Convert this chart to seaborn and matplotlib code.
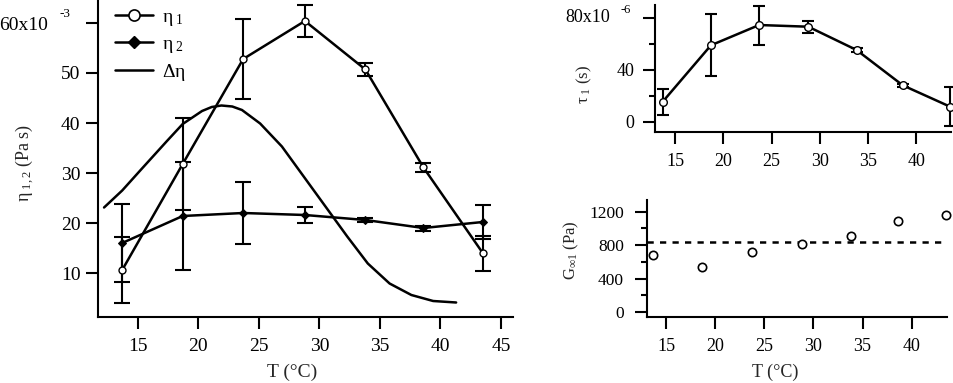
import matplotlib
matplotlib.use("Agg")
import matplotlib.pyplot as plt
from matplotlib.lines import Line2D
from matplotlib.ticker import FixedLocator
import seaborn as sns

# ---------------- data ----------------
T = [13.7, 18.7, 23.7, 28.8, 33.8, 38.6, 43.5]
eta1 = [10.6, 31.8, 52.8, 60.4, 50.7, 31.1, 14.0]          # x10^-3 Pa s
eta1_err = [6.6, 9.2, 8.0, 3.2, 1.3, 0.9, 3.5]
eta2 = [16.0, 21.4, 22.0, 21.6, 20.6, 19.0, 20.2]
eta2_err = [7.8, 10.8, 6.1, 1.6, 0.4, 0.5, 3.4]
dT = [12.2, 13.7, 15.3, 17.4, 18.7, 20.3, 21.1, 21.9, 22.8, 23.6, 25.1,
      26.9, 28.7, 30.5, 32.3, 34.0, 35.8, 37.6, 39.4, 41.3]
deta = [23.1, 26.5, 30.8, 36.4, 39.8, 42.4, 43.2, 43.5, 43.3, 42.6, 39.9,
        35.3, 29.3, 23.3, 17.3, 11.9, 7.9, 5.6, 4.4, 4.1]
tau1 = [15.6, 59.0, 74.6, 73.3, 55.4, 28.2, 11.8]           # x10^-6 s
tau1_err = [10.0, 24.0, 15.0, 4.5, 1.5, 1.0, 15.0]
G = [680, 540, 715, 820, 910, 1085, 1155]                   # Pa
G_mean = 840

left_xticks = [15, 20, 25, 30, 35, 40, 45]
left_yticks = [10, 20, 30, 40, 50, 60]
right_xticks = [15, 20, 25, 30, 35, 40]

# ---------------- style ----------------
sns.set_style("ticks")
plt.rcParams["font.family"] = ["Liberation Serif", "DejaVu Serif"]
plt.rcParams["mathtext.fontset"] = "custom"
plt.rcParams["mathtext.rm"] = "Liberation Serif"
plt.rcParams["mathtext.it"] = "Liberation Serif"
plt.rcParams["mathtext.bf"] = "Liberation Serif"
plt.rcParams["axes.linewidth"] = 1.5
plt.rcParams["axes.edgecolor"] = "black"
plt.rcParams["text.color"] = "black"
plt.rcParams["xtick.color"] = "black"
plt.rcParams["ytick.color"] = "black"
plt.rcParams["lines.solid_joinstyle"] = "round"

W, H = 954, 383
fig = plt.figure(figsize=(W / 100, H / 100), dpi=100)


def px_axes(x0, y0, x1, y1):
    return fig.add_axes([x0 / W, 1 - y1 / H, (x1 - x0) / W, (y1 - y0) / H])


def style_ticks(ax, size, xpad, ypad):
    ax.tick_params(which="major", direction="out", length=8.6, width=1.5,
                   labelsize=size)
    ax.tick_params(which="minor", direction="out", length=4.3, width=1.5)
    ax.tick_params(axis="x", pad=xpad)
    ax.tick_params(axis="y", pad=ypad)
    for s in ["top", "right"]:
        ax.spines[s].set_visible(False)


def place_ylabel(ax, text, size, xpx, ypx):
    ax.set_ylabel(text, fontsize=size)
    ax.yaxis.set_label_coords(xpx / W, 1 - ypx / H, transform=fig.transFigure)
    ax.yaxis.label.set_verticalalignment("center")
    ax.yaxis.label.set_horizontalalignment("center")


def place_xlabel(ax, text, size, xpx, ypx):
    ax.set_xlabel(text, fontsize=size)
    ax.xaxis.set_label_coords(xpx / W, 1 - ypx / H, transform=fig.transFigure)
    ax.xaxis.label.set_verticalalignment("center")
    ax.xaxis.label.set_horizontalalignment("center")


lw = 1.8
# ---------------- left panel ----------------
axL = px_axes(98, 0, 513, 317)
axL.errorbar(T, eta1, yerr=eta1_err, fmt="none", ecolor="black",
             elinewidth=1.5, capsize=5.5, capthick=1.5, zorder=2)
axL.errorbar(T, eta2, yerr=eta2_err, fmt="none", ecolor="black",
             elinewidth=1.5, capsize=5.5, capthick=1.5, zorder=2)
sns.lineplot(x=T, y=eta1, ax=axL, color="black", lw=lw, marker="o",
             markersize=5, markerfacecolor="white", markeredgecolor="black",
             markeredgewidth=1.0, zorder=3)
sns.lineplot(x=T, y=eta2, ax=axL, color="black", lw=lw, marker="D",
             markersize=4, markerfacecolor="black", markeredgecolor="black",
             zorder=3)
sns.lineplot(x=dT, y=deta, ax=axL, color="black", lw=lw, sort=False, zorder=3)
axL.set_xlim(11.7, 46.0)
axL.set_ylim(1.2, 64.6)
axL.xaxis.set_major_locator(FixedLocator(left_xticks))
axL.yaxis.set_major_locator(FixedLocator(left_yticks))
axL.set_yticklabels(["" if v == 60 else str(v) for v in left_yticks])
style_ticks(axL, 14, 6.5, 4)
place_xlabel(axL, "T (°C)", 14, 292, 372)
place_ylabel(axL, r"$\mathregular{\eta_{\ 1,2}}$ (Pa s)", 13, 25, 163)

fig.text(48 / W, 1 - 26 / H, "60x10", fontsize=14, ha="right", va="center")
fig.text(60 / W, 1 - 14 / H, "-3", fontsize=9.5, ha="left", va="center")

handles = [
    Line2D([], [], color="black", lw=lw, marker="o", markersize=8,
           markerfacecolor="white", markeredgecolor="black", markeredgewidth=1.2),
    Line2D([], [], color="black", lw=lw, marker="D", markersize=6,
           markerfacecolor="black"),
    Line2D([], [], color="black", lw=lw),
]
labels = [r"$\mathregular{\eta_{\ 1}}$", r"$\mathregular{\eta_{\ 2}}$",
          r"$\mathregular{\Delta\eta}$"]
axL.legend(handles, labels, loc="upper left",
           bbox_to_anchor=(17 / 415, 1.0 - 8 / 317),
           frameon=False, fontsize=14, handlelength=1.95, handletextpad=0.45,
           labelspacing=0.38, borderpad=0, borderaxespad=0)

# ---------------- right top panel ----------------
axT = px_axes(655, 5, 951, 132)
axT.errorbar(T, tau1, yerr=tau1_err, fmt="none", ecolor="black",
             elinewidth=1.5, capsize=4, capthick=1.5, zorder=2, clip_on=False)
sns.lineplot(x=T, y=tau1, ax=axT, color="black", lw=lw, marker="o",
             markersize=5.5, markerfacecolor="white", markeredgecolor="black",
             markeredgewidth=1.0, zorder=3, clip_on=False)
axT.set_xlim(12.9, 43.6)
axT.set_ylim(-7.7, 90)
axT.xaxis.set_major_locator(FixedLocator(right_xticks))
axT.yaxis.set_major_locator(FixedLocator([0, 40, 80]))
axT.yaxis.set_minor_locator(FixedLocator([20, 60]))
axT.set_yticklabels(["0", "40", ""])
style_ticks(axT, 13, 6.5, 6)
place_ylabel(axT, r"$\mathregular{\tau_{\ 1}}$ (s)", 12, 584, 84)
fig.text(610 / W, 1 - 18 / H, "80x10", fontsize=13, ha="right", va="center")
fig.text(621 / W, 1 - 10 / H, "-6", fontsize=9, ha="left", va="center")

# ---------------- right bottom panel ----------------
axB = px_axes(647, 200, 947, 317)
axB.axhline(G_mean, color="black", lw=1.8, ls=(0, (2.5, 2.5)))
sns.scatterplot(x=T, y=G, ax=axB, marker="o", s=36, facecolor="white",
                edgecolor="black", linewidth=1.2, zorder=3, clip_on=False)
axB.set_xlim(13.06, 43.6)
axB.set_ylim(-58, 1340)
axB.xaxis.set_major_locator(FixedLocator(right_xticks))
axB.yaxis.set_major_locator(FixedLocator([0, 400, 800, 1200]))
axB.yaxis.set_minor_locator(FixedLocator([200, 600, 1000]))
style_ticks(axB, 13, 6.5, 8)
axB.tick_params(axis="y", labelsize=12.5)
place_xlabel(axB, "T (°C)", 13, 775, 372)
place_ylabel(axB, r"$\mathregular{G_{\infty 1}}$ (Pa)", 12, 571, 250)

fig.savefig("out.png", dpi=100)
